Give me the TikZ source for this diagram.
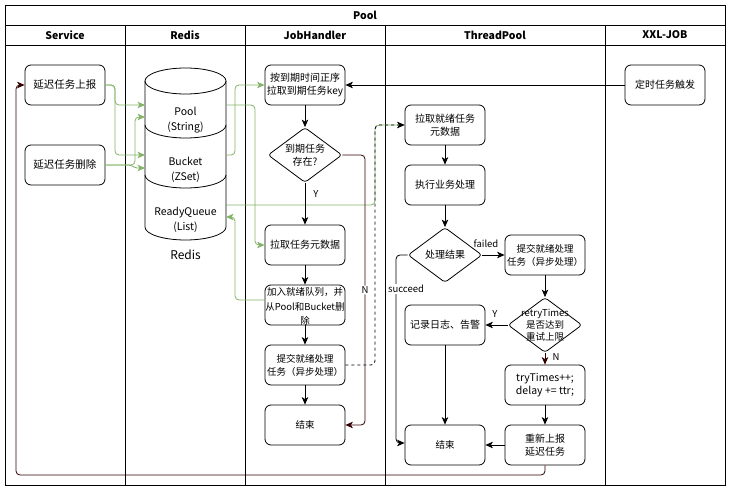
\documentclass[tikz,border=0pt]{standalone}
\usepackage{fontspec}
\setmainfont{Noto Sans CJK SC}
\usetikzlibrary{arrows.meta,shapes.geometric}
\definecolor{grn}{HTML}{82B366}
\definecolor{mar}{HTML}{330000}
\begin{document}
\begin{tikzpicture}[x=1pt,y=-1pt,
  box/.style={draw,rounded corners=6pt,line width=0.8pt,minimum width=80pt,minimum height=40pt,align=center,inner sep=1pt,font=\fontsize{10}{13}\selectfont},
  dec/.style={draw,diamond,rounded corners=3pt,line width=0.8pt,minimum width=74pt,minimum height=55pt,inner sep=0pt},
  dtxt/.style={align=center,inner sep=0pt,font=\fontsize{10}{13}\selectfont},
  hdr/.style={font=\fontsize{10.5}{12}\selectfont\bfseries},
  lbl/.style={font=\fontsize{9.5}{11}\selectfont,inner sep=1pt},
  arr/.style={line width=0.8pt,-{Stealth[length=7.5pt,width=6.5pt,inset=2pt]}},
  garr/.style={arr,draw=grn,rounded corners=4pt},
  marr/.style={arr,draw=mar,rounded corners=4pt}]
\useasboundingbox (0,0) rectangle (732,492);
% frame and lanes
\draw[line width=1pt] (5.5,5.5) rectangle (725.5,485.5);
\draw[line width=1pt] (5.5,25.5) -- (725.5,25.5) (5.5,45.5) -- (725.5,45.5);
\foreach \x in {125.5,245.5,385.5,605.5} \draw[line width=1pt] (\x,25.5) -- (\x,485.5);
\node[hdr] (title) at (365,15) {Pool};
\node[hdr] (hs) at (65,35) {Service};
\node[hdr] (hr) at (185,35) {Redis};
\node[hdr] (hj) at (315,35) {JobHandler};
\node[hdr] (ht) at (495,35) {ThreadPool};
\node[hdr] (hx) at (665,35) {XXL-JOB};
% Redis cylinders
\draw[line width=0.8pt,fill=white] (145,81) -- (145,227) arc[start angle=180,end angle=0,x radius=40.5,y radius=13] -- (226,81);
\draw[line width=0.8pt] (185.5,81) ellipse[x radius=40.5,y radius=13];
\draw[line width=0.8pt] (145,125) arc[start angle=180,end angle=0,x radius=40.5,y radius=13];
\draw[line width=0.8pt] (145,175) arc[start angle=180,end angle=0,x radius=40.5,y radius=13];
\node[dtxt,font=\fontsize{10.5}{15}\selectfont] (pool) at (185.5,120) {Pool\\(String)};
\node[dtxt,font=\fontsize{10.5}{15}\selectfont] (bucket) at (185.5,170) {Bucket\\(ZSet)};
\node[dtxt,font=\fontsize{10.5}{15}\selectfont] (rq) at (185.5,220) {ReadyQueue\\(List)};
\node[font=\fontsize{12}{14}\selectfont] (redis) at (185.5,255) {Redis};
\coordinate (poolW1) at (145,105);
\coordinate (poolW2) at (145,117);
\coordinate (bucketW1) at (145,155);
\coordinate (bucketW2) at (145,168);
\coordinate (poolE) at (226,105);
\coordinate (bucketE) at (226,155);
\coordinate (rqE) at (226,205);
\coordinate (rqIn) at (226,217);
% Service
\node[box,font=\fontsize{10.5}{13}\selectfont] (s1) at (65,85) {延迟任务上报};
\node[box,font=\fontsize{10.5}{13}\selectfont] (s2) at (65,165) {延迟任务删除};
% JobHandler
\node[box] (h1) at (305,85) {按到期时间正序\\拉取到期任务key};
\node[dec] (d1) at (305,155) {};
\node[dtxt] (d1t) at (305,155) {到期任务\\存在?};
\node[box] (h2) at (305,245) {拉取任务元数据};
\node[box,font=\fontsize{9.5}{14.5}\selectfont,inner sep=0pt] (h3) at (305,305) {};
\node[dtxt,font=\fontsize{9.5}{14.5}\selectfont] (h3t) at (305,306.5) {加入就绪队列，并\\从Pool和Bucket删\\除};
\node[box,font=\fontsize{9.5}{13}\selectfont] (h4) at (305,365) {提交就绪处理\\任务（异步处理）};
\node[box,font=\fontsize{9.5}{13}\selectfont] (h5) at (305,425) {结束};
% XXL-JOB
\node[box] (xxl) at (665,85) {定时任务触发};
% ThreadPool
\node[box] (t1) at (445,125) {拉取就绪任务\\元数据};
\node[box] (t2) at (445,185) {执行业务处理};
\node[dec] (d2) at (445,255) {};
\node[dtxt] (d2t) at (445,255) {处理结果};
\node[box,font=\fontsize{9.5}{13}\selectfont] (t3) at (545,255) {提交就绪处理\\任务（异步处理）};
\node[dec] (d3) at (545,325) {};
\node[dtxt,font=\fontsize{9.5}{12}\selectfont] (d3t) at (545,325) {retryTimes\\是否达到\\重试上限};
\node[box] (t4) at (445,325) {记录日志、告警};
\node[box,font=\fontsize{10.5}{13}\selectfont] (t5) at (545,385) {tryTimes++;\\delay += ttr;};
\node[box] (t6) at (545,445) {重新上报\\延迟任务};
\node[box,font=\fontsize{9.5}{13}\selectfont] (t7) at (445,445) {结束};
% green connectors
\draw[garr] (s1.east) -- (115,85) -- (115,105) -- (poolW1);
\draw[garr] (s1.east) -- (115,85) -- (115,155) -- (bucketW1);
\draw[garr] (s2.east) -- (135,165) -- (135,117) -- (poolW2);
\draw[garr,rounded corners=2pt] (s2.east) -- (131,165) -- (135,168) -- (bucketW2);
\draw[garr] (h3.west |- 0,300) -- (235,300) -- (235,217) -- (rqIn);
\draw[garr] (bucketE) -- (235,155) -- (235,85) -- (h1.west);
\draw[garr] (poolE) -- (255,105) -- (255,245) -- (h2.west);
\draw[garr] (rqE) -- (375,205) -- (375,125) -- (t1.west);
% black connectors
\draw[arr] (xxl.west) -- (h1.east);
\draw[arr] (h1.south) -- (d1.north);
\draw[arr] (d1.south) -- (h2.north);
\node[lbl] (ly) at (316,194) {Y};
\draw[arr] (h2.south) -- (h3.north);
\draw[arr] (h3.south) -- (h4.north);
\draw[arr] (h4.south) -- (h5.north);
\draw[marr] (d1.east) -- (365,155) -- node[lbl,fill=white,pos=0.5] (ln) {N} (365,425) -- (h5.east);
\draw[arr,dashed,rounded corners=4pt] (h4.east) -- (375,365) -- (375,125) -- (t1.west);
\draw[arr] (t1.south) -- (t2.north);
\draw[arr] (t2.south) -- (d2.north);
\draw[arr] (d2.east) -- (t3.west);
\node[lbl] (lf) at (486,244) {failed};
\draw[arr] (t3.south) -- (d3.north);
\draw[arr] (d3.west) -- (t4.east);
\node[lbl] (lyy) at (495,314) {Y};
\draw[marr] (d3.south) -- (t5.north);
\node[lbl] (lnn) at (556,357) {N};
\draw[arr] (t5.south) -- (t6.north);
\draw[arr] (t6.west) -- (t7.east);
\draw[arr] (t4.south) -- (t7.north);
\draw[arr,rounded corners=4pt] (d2.west) -- (396,255) -- (396,443) -- (t7.west |- 0,443);
\node[lbl,fill=white] (ls) at (406,289) {succeed};
\draw[marr] (t6.south) -- (545,475) -- (16,475) -- (16,85) -- (s1.west);
\end{tikzpicture}
\end{document}
